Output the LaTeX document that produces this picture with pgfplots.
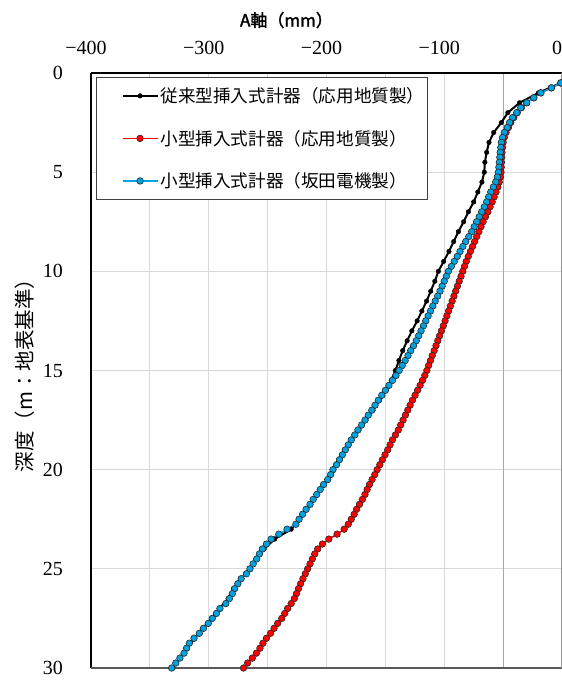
\documentclass[border=0pt]{standalone}
\usepackage{fontspec}
\setmainfont{Liberation Serif}
\newfontfamily\jp{Noto Sans CJK JP}
\newfontfamily\jpb{Noto Sans CJK JP}[FakeBold=2]
\usepackage{pgfplots}
\usepackage{pgfplotstable}
\pgfplotsset{compat=1.18}
\definecolor{myblue}{HTML}{00A2E0}
\definecolor{gridgray}{HTML}{D9D9D9}
\definecolor{leggray}{HTML}{404040}

\pgfplotstableread{
d x
0.5 -1
1.0 -20
1.5 -36
2.0 -46
2.5 -51.5
3.0 -58
3.5 -62
4.0 -64
4.5 -65.5
5.0 -66
5.5 -68
6.0 -71.5
6.5 -75
7.0 -79.5
7.5 -83.5
8.0 -88
8.5 -92
9.0 -96
9.5 -100.5
10.0 -105
10.5 -108
11.0 -111.5
11.5 -115
12.0 -119
12.5 -123
13.0 -127.5
13.5 -131.5
14.0 -135.3
14.5 -138.5
15.0 -141.5
15.5 -145
16.0 -149.5
16.5 -155
17.0 -160.5
17.5 -166.5
18.0 -172.5
18.5 -178.5
19.0 -184
19.5 -189
20.0 -194.5
20.5 -199
21.0 -205
21.5 -211
22.0 -217.5
22.5 -223
23.0 -230
23.5 -244
24.0 -253
24.5 -259.5
25.0 -265
25.5 -272.5
26.0 -279
26.5 -283.5
27.0 -291
27.5 -297.5
28.0 -305
28.5 -312
29.0 -318.5
29.5 -325
30.0 -330.5
}\blacktab

\pgfplotstableread{
d x
0.5 -1
0.75 -9
1.0 -18
1.25 -24
1.5 -30
1.75 -34.5
2.0 -38
2.25 -41
2.5 -43.5
2.75 -45.5
3.0 -47.5
3.25 -49
3.5 -50
3.75 -50.5
4.0 -51
4.25 -51.2
4.5 -51.4
4.75 -51.6
5.0 -51.8
5.25 -52.3
5.5 -53.3
5.75 -54.5
6.0 -56
6.25 -57.6
6.5 -59.3
6.75 -61.1
7.0 -63
7.25 -65
7.5 -67
7.75 -68.8
8.0 -70.6
8.25 -72.4
8.5 -74.2
8.75 -76
9.0 -77.8
9.25 -79.6
9.5 -81.3
9.75 -82.8
10.0 -84.3
10.25 -85.8
10.5 -87.3
10.75 -88.8
11.0 -90.3
11.25 -91.8
11.5 -93.3
11.75 -94.8
12.0 -96.3
12.25 -97.8
12.5 -99.3
12.75 -100.8
13.0 -102.4
13.25 -104
13.5 -105.5
13.75 -107
14.0 -108.6
14.25 -110.2
14.5 -111.7
14.75 -113.3
15.0 -114.8
15.25 -116.5
15.5 -118.5
15.75 -120.5
16.0 -122.7
16.25 -124.8
16.5 -127
16.75 -129
17.0 -131
17.25 -133
17.5 -135
17.75 -137
18.0 -139
18.25 -141.5
18.5 -144
18.75 -146
19.0 -148
19.25 -150.3
19.5 -152.5
19.75 -154.7
20.0 -157
20.25 -159
20.5 -161.3
20.75 -163.5
21.0 -165.5
21.25 -167.3
21.5 -169.5
21.75 -172
22.0 -174.5
22.25 -176.5
22.5 -179
22.75 -181.5
23.0 -185
23.25 -191
23.5 -198
23.75 -203.5
24.0 -207.5
24.25 -210
24.5 -212
24.75 -214
25.0 -216
25.25 -218
25.5 -220
25.75 -222
26.0 -223.8
26.25 -225.5
26.5 -227.3
26.75 -230
27.0 -233
27.25 -235.5
27.5 -238
27.75 -241.5
28.0 -244.5
28.25 -247.5
28.5 -251
28.75 -254
29.0 -256.5
29.25 -259.5
29.5 -263
29.75 -267
30.0 -270.5
}\redtab

\pgfplotstableread{
d x
0.5 -1
0.75 -9
1.0 -18
1.25 -24
1.5 -30
1.75 -35
2.0 -38.5
2.25 -42
2.5 -44.5
2.75 -46.5
3.0 -49
3.25 -50.5
3.5 -51.5
3.75 -52
4.0 -52.5
4.25 -52.8
4.5 -53.2
4.75 -53.6
5.0 -54
5.25 -55
5.5 -56.3
5.75 -58.3
6.0 -60.5
6.25 -62.3
6.5 -64
6.75 -66
7.0 -68.2
7.25 -70.3
7.5 -72.5
7.75 -74.6
8.0 -76.7
8.25 -79.2
8.5 -81.8
8.75 -84.2
9.0 -86.6
9.25 -89
9.5 -91.5
9.75 -94
10.0 -96.5
10.25 -98.2
10.5 -100
10.75 -101.8
11.0 -103.6
11.25 -105.6
11.5 -107.7
11.75 -109.7
12.0 -111.7
12.25 -113.7
12.5 -115.7
12.75 -117.7
13.0 -119.7
13.25 -121.7
13.5 -123.8
13.75 -126.1
14.0 -128.5
14.25 -130.8
14.5 -133.2
14.75 -135.7
15.0 -138.3
15.25 -141
15.5 -144
15.75 -147
16.0 -150
16.25 -153
16.5 -156
16.75 -158.8
17.0 -161.5
17.25 -164.5
17.5 -167.3
17.75 -170.2
18.0 -173.3
18.25 -176
18.5 -179
18.75 -181.5
19.0 -184
19.25 -186.5
19.5 -189
19.75 -191.5
20.0 -194.5
20.25 -196.5
20.5 -199
20.75 -202.5
21.0 -205.3
21.25 -208.3
21.5 -211.3
21.75 -214
22.0 -217.3
22.25 -220.3
22.5 -223.3
22.75 -226
23.0 -233.5
23.25 -240.5
23.5 -247
23.75 -251
24.0 -254.5
24.25 -257
24.5 -259.3
24.75 -262.3
25.0 -265
25.25 -268
25.5 -272.5
25.75 -275.3
26.0 -278
26.25 -280
26.5 -282.5
26.75 -285.5
27.0 -290.5
27.25 -293.5
27.5 -297
27.75 -300.4
28.0 -304.5
28.25 -308
28.5 -312.5
28.75 -316.5
29.0 -318.8
29.25 -321
29.5 -324.5
29.75 -328
30.0 -331.5
}\bluetab

\begin{document}
\begin{tikzpicture}
\begin{axis}[
  name=ax,
  width=471bp, height=595bp, scale only axis,
  xmin=-400, xmax=0, ymin=0, ymax=30, y dir=reverse,
  xtick={-400,-300,-200,-100,0},
  xticklabels={−400,−300,−200,−100,0},
  minor xtick={-350,-250,-150},
  extra x ticks={-50},
  extra x tick labels={},
  extra x tick style={grid style={black!35, line width=1bp}},
  ytick={0,5,10,15,20,25,30},
  yticklabels={0,5,10,15,20,25,30},
  xticklabel pos=upper,
  xmajorgrids, xminorgrids, ymajorgrids,
  grid style={gridgray, line width=1bp},
  minor grid style={gridgray, line width=1bp},
  major tick length=0pt, minor tick length=0pt,
  tick label style={font=\fontsize{20bp}{23bp}\selectfont},
  xticklabel style={anchor=south, inner sep=0pt, yshift=18bp, xshift=-5bp},
  yticklabel style={anchor=east, inner sep=0pt, xshift=-28bp},
  axis line style={draw=none},
  clip=false,
  xlabel={\jpb A軸（mm）},
  xlabel style={at={(axis description cs:0.415,1.089)}, anchor=center, font=\fontsize{17bp}{20bp}\selectfont},
  ylabel={\jp 深度（m：地表基準）},
  ylabel style={at={(axis description cs:-0.140,0.50)}, anchor=center, font=\fontsize{20.5bp}{23bp}\selectfont},
  legend style={at={(axis description cs:0.0106,0.9933)}, anchor=north west,
    draw=leggray, line width=1.2bp, fill=white,
    font=\jp\fontsize{17.6bp}{20bp}\selectfont,
    inner xsep=1bp, inner ysep=8bp, row sep=22bp},
  legend cell align=left,
  legend image code/.code={\path[draw=none, fill=none] (0bp,0bp) -- (60bp,0bp);
    \draw[mark repeat=2, mark phase=2, #1] plot coordinates {(25bp,0bp) (42.5bp,0bp) (60bp,0bp)};},
]
\addplot[black, line width=2bp, mark=*, mark size=2.3bp, mark options={fill=black, draw=black, line width=0.4bp}] table[x=x, y=d] {\blacktab};
\addlegendentry{従来型挿入式計器（応用地質製）\hspace{-7bp}}
\addplot[red, line width=1.5bp, mark=*, mark size=3.3bp, mark options={fill=red, draw=black!85, line width=0.6bp}] table[x=x, y=d] {\redtab};
\addlegendentry{小型挿入式計器（応用地質製）\hspace{-7bp}}
\addplot[myblue, line width=1.5bp, mark=*, mark size=3.3bp, mark options={fill=myblue, draw=black!85, line width=0.6bp}] table[x=x, y=d] {\bluetab};
\addlegendentry{小型挿入式計器（坂田電機製）\hspace{-7bp}}
\draw[black, line width=2bp] (axis cs:-400,0) -- (axis cs:0,0);
\draw[black, line width=1.5bp] (axis cs:-400,0) -- (axis cs:-400,30);
\draw[black!65, line width=1.5bp] (axis cs:-400,30) -- (axis cs:0,30);
\draw[black!40, line width=1.5bp] (axis cs:0,0) -- (axis cs:0,30);
\end{axis}
\path (ax.south west) ++(-91bp,-12bp) coordinate (bl);
\path (ax.north east) ++(0bp,73bp) coordinate (tr);
\pgfresetboundingbox
\useasboundingbox (bl) rectangle (tr);
\end{tikzpicture}
\end{document}
